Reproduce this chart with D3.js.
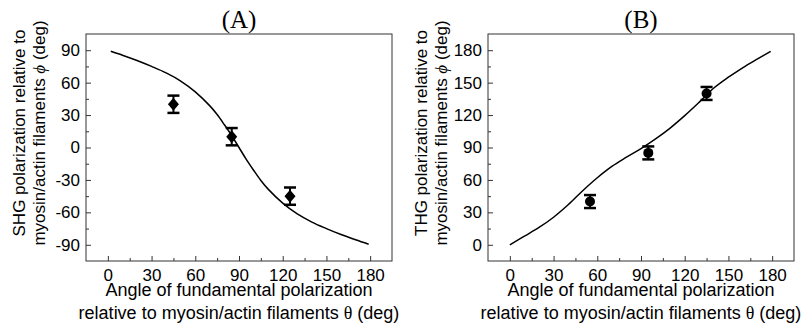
<!DOCTYPE html>
<html>
<head>
<meta charset="utf-8">
<script src="https://cdn.jsdelivr.net/npm/d3@7"></script>
<style>
  body { margin: 0; background: #fff; }
  svg { display: block; }
  .tick text { font-family: "Liberation Sans", Arial, sans-serif; font-size: 17px; fill: #000; }
  .lbl { font-family: "Liberation Sans", Arial, sans-serif; font-size: 17px; fill: #000; }
  .xlbl { font-size: 18px; }
  .serif { font-family: "Liberation Serif", "Times New Roman", serif; }
</style>
</head>
<body>
<div id="chart"></div>
<script>
// axis ticks
const thetaTicks = [0, 30, 60, 90, 120, 150, 180];
const thetaMinor = [15, 45, 75, 105, 135, 165];
const shgTicks = [-90, -60, -30, 0, 30, 60, 90];
const shgMinor = [-75, -45, -15, 15, 45, 75];
const thgTicks = [0, 30, 60, 90, 120, 150, 180];
const thgMinor = [15, 45, 75, 105, 135, 165];

// (A) SHG: fitted curve
const shgFitTheta = [2, 10, 20, 30, 40, 50, 60, 70, 75, 80, 85, 90, 95, 100, 105, 110, 120, 130, 140, 150, 160, 170, 179];
const shgFitPhi   = [89, 85.4, 80.5, 75, 69, 61.5, 51.5, 38.5, 30.5, 21, 11, 0, -11, -21, -30.5, -38.5, -51.5, -61.5, -69, -75, -80.5, -85.4, -89.5];
// (A) SHG: measured points
const shgPointTheta = [45, 85, 125];
const shgPointPhi   = [40, 10, -45];
const shgPointErr   = [8, 8, 8];

// (B) THG: fitted curve
const thgFitTheta = [0, 10, 20, 30, 40, 50, 60, 70, 80, 90, 100, 110, 120, 130, 140, 150, 160, 170, 179];
const thgFitPhi   = [0, 8, 16, 25.5, 37, 50, 62, 72.5, 81, 89, 98, 108, 119.5, 132, 145, 155, 164, 172, 179];
// (B) THG: measured points
const thgPointTheta = [55, 95, 135];
const thgPointPhi   = [40, 85, 140];
const thgPointErr   = [6, 6, 6];

const svg = d3.select("#chart").append("svg")
    .attr("width", 806)
    .attr("height", 335);

function drawPanel(cfg) {
    const left = cfg.left, right = cfg.left + 306, top = 34, bottom = 261;
    const x = d3.scaleLinear().domain([-15, 195]).range([left, right]);
    const y = d3.scaleLinear().domain(cfg.yDomain).range([bottom, top]);
    const g = svg.append("g");

    // minor ticks first, then major
    g.append("g").attr("transform", `translate(0,${bottom})`)
        .call(d3.axisBottom(x).tickValues(thetaMinor).tickSize(-3).tickFormat(""))
        .call(a => a.select(".domain").remove());
    g.append("g").attr("transform", `translate(${left},0)`)
        .call(d3.axisLeft(y).tickValues(cfg.yMinor).tickSize(-3).tickFormat(""))
        .call(a => a.select(".domain").remove());
    g.append("g").attr("transform", `translate(0,${bottom})`)
        .call(d3.axisBottom(x).tickValues(thetaTicks).tickSize(-5).tickPadding(8))
        .call(a => a.select(".domain").remove());
    g.append("g").attr("transform", `translate(${left},0)`)
        .call(d3.axisLeft(y).tickValues(cfg.yTicks).tickSize(-5).tickPadding(6).tickFormat(d => d < 0 ? "-" + Math.abs(d) : d))
        .call(a => a.select(".domain").remove());
    g.selectAll(".tick line").attr("stroke", "#333");

    g.append("rect")
        .attr("x", left).attr("y", top)
        .attr("width", right - left).attr("height", bottom - top)
        .attr("fill", "none").attr("stroke", "#333").attr("stroke-width", 1);

    // fitted curve
    const line = d3.line()
        .x((d, i) => x(cfg.fitTheta[i]))
        .y(d => y(d))
        .curve(d3.curveCatmullRom.alpha(0.5));
    g.append("path")
        .datum(cfg.fitPhi)
        .attr("d", line)
        .attr("fill", "none")
        .attr("stroke", "#000")
        .attr("stroke-width", 1.5);

    // error bars + markers
    const pts = cfg.ptTheta.map((t, i) => ({ t: t, p: cfg.ptPhi[i], e: cfg.ptErr[i] }));
    const eb = g.selectAll(".eb").data(pts).enter().append("g");
    eb.append("line")
        .attr("x1", d => x(d.t)).attr("x2", d => x(d.t))
        .attr("y1", d => y(d.p + d.e)).attr("y2", d => y(d.p - d.e))
        .attr("stroke", "#000").attr("stroke-width", 2);
    [1, -1].forEach(s => {
        eb.append("line")
            .attr("x1", d => x(d.t) - 6).attr("x2", d => x(d.t) + 6)
            .attr("y1", d => y(d.p + s * d.e)).attr("y2", d => y(d.p + s * d.e))
            .attr("stroke", "#000").attr("stroke-width", 2.5);
    });
    if (cfg.marker === "diamond") {
        eb.append("path")
            .attr("d", d => {
                const cx = x(d.t), cy = y(d.p);
                return `M${cx},${cy - 6.5}L${cx + 5.5},${cy}L${cx},${cy + 6.5}L${cx - 5.5},${cy}Z`;
            })
            .attr("fill", "#000");
    } else {
        eb.append("circle")
            .attr("cx", d => x(d.t)).attr("cy", d => y(d.p)).attr("r", 5)
            .attr("fill", "#000");
    }

    // panel title
    const mid = (left + right) / 2;
    g.append("text").attr("class", "serif")
        .attr("x", mid).attr("y", 28)
        .attr("text-anchor", "middle")
        .style("font-size", "25px")
        .text(cfg.title);

    // x title
    g.append("text").attr("class", "lbl xlbl")
        .attr("x", mid).attr("y", 296)
        .attr("text-anchor", "middle")
        .text("Angle of fundamental polarization");
    const xt2 = g.append("text").attr("class", "lbl xlbl")
        .attr("x", mid).attr("y", 319)
        .attr("text-anchor", "middle");
    xt2.append("tspan").text("relative to myosin/actin filaments ");
    xt2.append("tspan").attr("class", "serif").text("θ");
    xt2.append("tspan").text(" (deg)");

    // y title, two rotated lines
    const cy = 133;
    g.append("text").attr("class", "lbl")
        .attr("transform", `translate(${left - 61},${cy}) rotate(-90)`)
        .attr("text-anchor", "middle")
        .text(cfg.yTitle);
    const yt2 = g.append("text").attr("class", "lbl")
        .attr("transform", `translate(${left - 41},${cy}) rotate(-90)`)
        .attr("text-anchor", "middle");
    yt2.append("tspan").text("myosin/actin filaments ");
    yt2.append("tspan").attr("class", "serif").style("font-style", "italic").text("ϕ");
    yt2.append("tspan").text(" (deg)");
}

drawPanel({
    left: 86, title: "(A)", yDomain: [-105, 105],
    yTicks: shgTicks, yMinor: shgMinor,
    fitTheta: shgFitTheta, fitPhi: shgFitPhi,
    ptTheta: shgPointTheta, ptPhi: shgPointPhi, ptErr: shgPointErr,
    marker: "diamond",
    yTitle: "SHG polarization relative to"
});
drawPanel({
    left: 488, title: "(B)", yDomain: [-15, 195],
    yTicks: thgTicks, yMinor: thgMinor,
    fitTheta: thgFitTheta, fitPhi: thgFitPhi,
    ptTheta: thgPointTheta, ptPhi: thgPointPhi, ptErr: thgPointErr,
    marker: "circle",
    yTitle: "THG polarization relative to"
});
</script>
</body>
</html>
